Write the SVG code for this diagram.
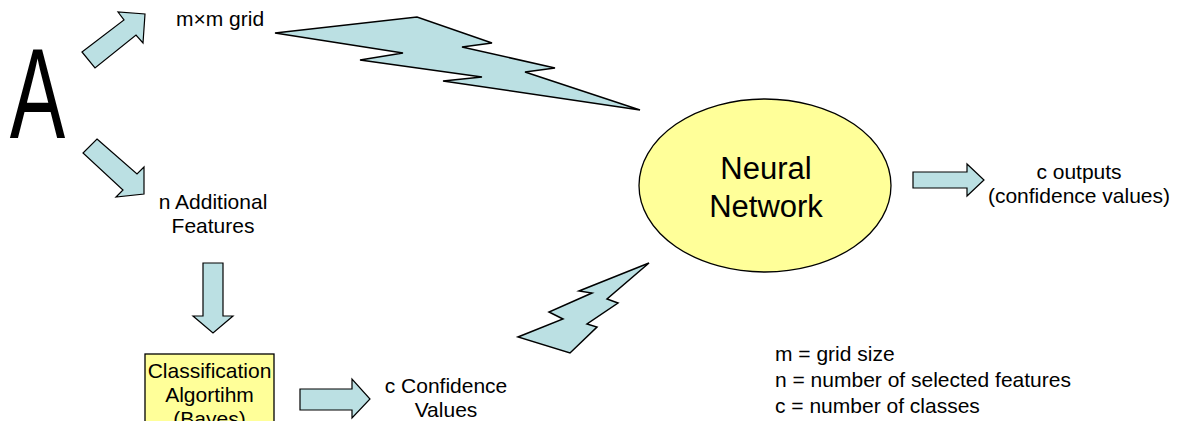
<svg xmlns="http://www.w3.org/2000/svg" width="1181" height="421" viewBox="0 0 1181 421">
<style>
.t{font-family:"Liberation Sans",Arial,sans-serif;font-size:21px;fill:#000}
.c{text-anchor:middle}
.arr{fill:#BBE0E3;stroke:#000;stroke-width:1.2;stroke-linejoin:miter}
.bolt{fill:#BBE0E3;stroke:#000;stroke-width:1.5;stroke-linejoin:miter}
.yel{fill:#FFFF99;stroke:#000;stroke-width:1.3}
</style>
<rect width="1181" height="421" fill="#fff"/>
<g id="input-A">
<text class="t" transform="translate(37.5,138) scale(0.65,1)" x="0" y="0" style="font-size:128px" text-anchor="middle">A</text>
</g>
<g id="grid">
<text class="t" x="176" y="26">m×m grid</text>
</g>
<g id="features">
<text class="t c" x="213" y="209">n Additional</text>
<text class="t c" x="213" y="233">Features</text>
</g>
<g id="classifier">
<rect class="yel" x="145" y="354" width="129" height="80"/>
<text class="t c" x="209.5" y="378">Classification</text>
<text class="t c" x="209.5" y="402">Algortihm</text>
<text class="t c" x="209.5" y="426">(Bayes)</text>
</g>
<g id="confidence">
<text class="t c" x="446" y="393">c Confidence</text>
<text class="t c" x="446" y="417">Values</text>
</g>
<g id="neural-network">
<ellipse class="yel" cx="765" cy="185.5" rx="126" ry="86.5"/>
<text class="t c" x="766" y="179" style="font-size:31px">Neural</text>
<text class="t c" x="766" y="217" style="font-size:31px">Network</text>
</g>
<g id="outputs">
<text class="t c" x="1079" y="179">c outputs</text>
<text class="t c" x="1079" y="203">(confidence values)</text>
</g>
<g id="legend">
<text class="t" x="775" y="361">m = grid size</text>
<text class="t" x="775" y="387">n = number of selected features</text>
<text class="t" x="775" y="413">c = number of classes</text>
</g>
<g id="connectors">
<polygon class="arr" points="82,52 124,20 118,12 145,14 143,43 136,35 95,68"/>
<polygon class="arr" points="97,139 137,174 144,167 144,194 116,197 123,190 83,153"/>
<polygon class="arr" points="203,263 223,263 223,316 233,316 213,333 193,316 203,316"/>
<polygon class="arr" points="300,389 352,389 352,379 370,399 352,418 352,410 300,410"/>
<polygon class="arr" points="913,172 967,172 967,164 984,180 967,196 967,188 913,188"/>
<polygon class="bolt" points="275,33 417,17 492,43 462,47 555,68 525,72 640,110 443,81 482,77 360,60 403,53"/>
<polygon class="bolt" points="649,263 579,291 592,293 549,312 563,319 518,337 570,353 597,327 587,324 618,303 607,299"/>
</g>
</svg>
